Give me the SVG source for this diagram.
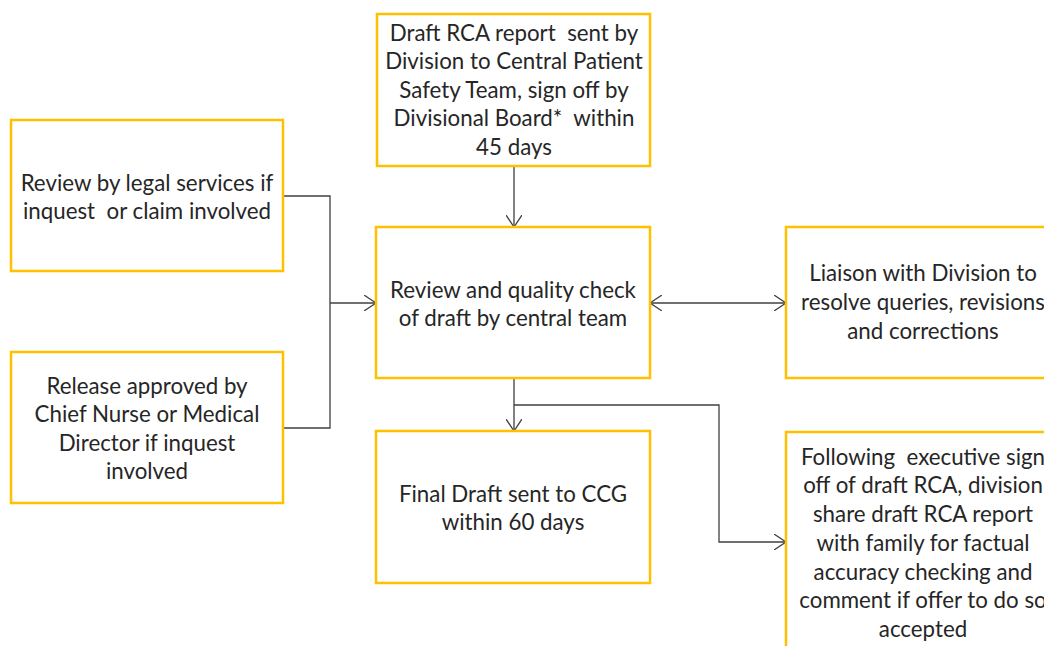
<svg xmlns="http://www.w3.org/2000/svg" width="1044" height="646" viewBox="0 0 1044 646">
  <style>
    .box { fill: #ffffff; stroke: #ffc000; stroke-width: 2.5; }
    .lbl { font-family: Lato, "Open Sans", sans-serif; font-size: 22.3px; fill: #262626; text-anchor: middle; white-space: pre; }
    .wire { fill: none; stroke: #404040; stroke-width: 1.3; }
  </style>
  <defs>
    <marker id="arrow" viewBox="0 0 12 16" refX="12" refY="8" markerWidth="12" markerHeight="16" markerUnits="userSpaceOnUse" orient="auto-start-reverse">
      <path d="M0,0 L12,8 L0,16" fill="none" stroke="#404040" stroke-width="1.3"/>
    </marker>
  </defs>
  <rect width="1044" height="646" fill="#ffffff"/>

  <g id="connectors">
    <line class="wire" x1="514" y1="166" x2="514" y2="227" marker-end="url(#arrow)"/>
    <polyline class="wire" points="283,196 330,196 330,428 283,428"/>
    <line class="wire" x1="330" y1="303" x2="376" y2="303" marker-end="url(#arrow)"/>
    <line class="wire" x1="650" y1="303" x2="786" y2="303" marker-start="url(#arrow)" marker-end="url(#arrow)"/>
    <line class="wire" x1="514" y1="378" x2="514" y2="431" marker-end="url(#arrow)"/>
    <polyline class="wire" points="514,405 719,405 719,542 786,542" marker-end="url(#arrow)"/>
  </g>

  <g id="draft-sent">
    <rect class="box" x="377" y="14" width="273" height="152"/>
    <text class="lbl" x="514" y="41" xml:space="preserve">Draft RCA report  sent by</text>
    <text class="lbl" x="514" y="69">Division to Central Patient</text>
    <text class="lbl" x="514" y="98">Safety Team, sign off by</text>
    <text class="lbl" x="514" y="126" xml:space="preserve">Divisional Board*  within</text>
    <text class="lbl" x="514" y="155">45 days</text>
  </g>

  <g id="legal-review">
    <rect class="box" x="11" y="120" width="272" height="151"/>
    <text class="lbl" x="147" y="191">Review by legal services if</text>
    <text class="lbl" x="147" y="219" xml:space="preserve">inquest  or claim involved</text>
  </g>

  <g id="release-approved">
    <rect class="box" x="11" y="352" width="272" height="151"/>
    <text class="lbl" x="147" y="394">Release approved by</text>
    <text class="lbl" x="147" y="422">Chief Nurse or Medical</text>
    <text class="lbl" x="147" y="451">Director if inquest</text>
    <text class="lbl" x="147" y="479">involved</text>
  </g>

  <g id="quality-check">
    <rect class="box" x="376" y="227" width="274" height="151"/>
    <text class="lbl" x="513" y="298">Review and quality check</text>
    <text class="lbl" x="513" y="326">of draft by central team</text>
  </g>

  <g id="liaison">
    <rect class="box" x="786" y="227" width="270" height="151"/>
    <text class="lbl" x="923" y="281">Liaison with Division to</text>
    <text class="lbl" x="923" y="310">resolve queries, revisions</text>
    <text class="lbl" x="923" y="339">and corrections</text>
  </g>

  <g id="final-draft">
    <rect class="box" x="376" y="431" width="274" height="152"/>
    <text class="lbl" x="513" y="502">Final Draft sent to CCG</text>
    <text class="lbl" x="513" y="530">within 60 days</text>
  </g>

  <g id="family-share">
    <rect class="box" x="786" y="432" width="270" height="230"/>
    <text class="lbl" x="923" y="465" xml:space="preserve">Following  executive sign</text>
    <text class="lbl" x="923" y="493">off of draft RCA, division</text>
    <text class="lbl" x="923" y="522">share draft RCA report</text>
    <text class="lbl" x="923" y="551">with family for factual</text>
    <text class="lbl" x="923" y="580">accuracy checking and</text>
    <text class="lbl" x="923" y="608">comment if offer to do so</text>
    <text class="lbl" x="923" y="637">accepted</text>
  </g>
</svg>
